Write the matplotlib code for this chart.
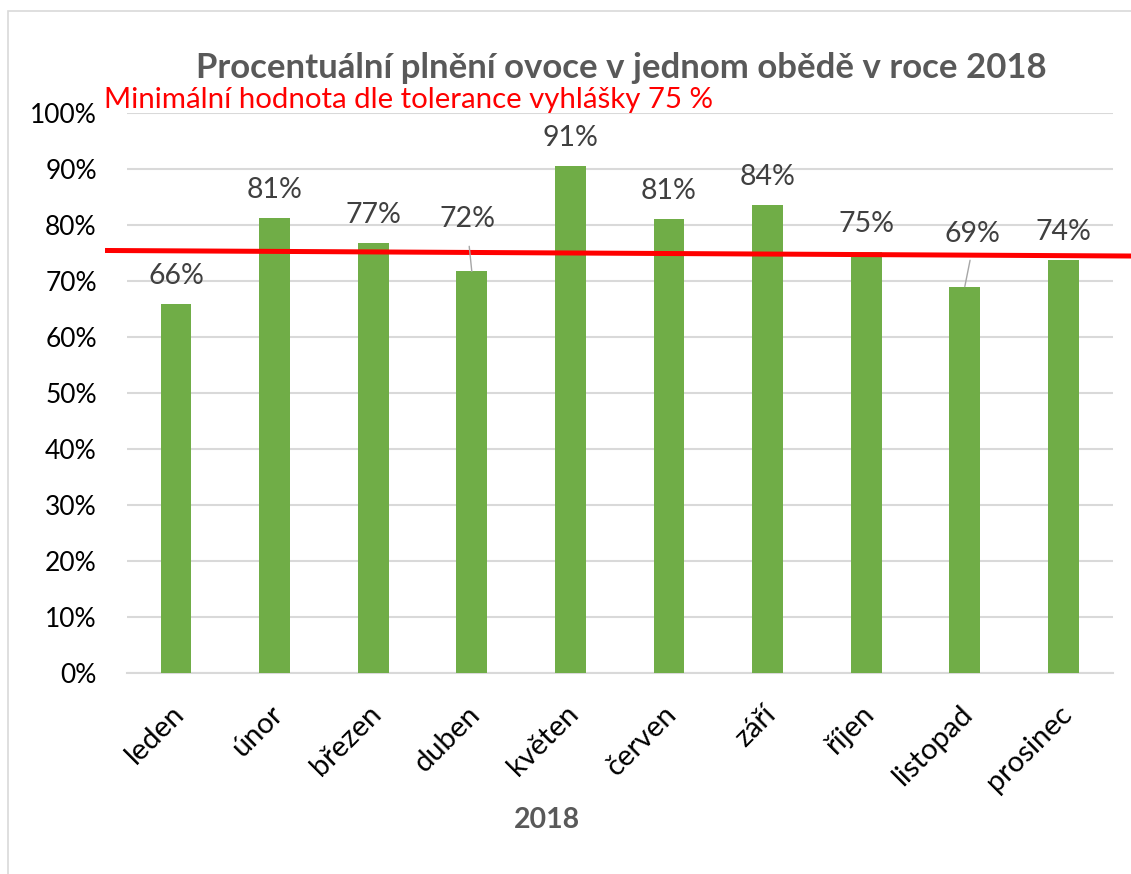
import matplotlib
matplotlib.use("Agg")
import matplotlib.pyplot as plt
from matplotlib.patches import Rectangle

plt.rcParams['font.family'] = ['Lato', 'DejaVu Sans']

months = ["leden", "únor", "březen", "duben", "květen", "červen",
          "září", "říjen", "listopad", "prosinec"]
values = [65.9, 81.2, 76.8, 71.7, 90.6, 81.0, 83.6, 75.2, 69.0, 73.7]
yticks = [0, 10, 20, 30, 40, 50, 60, 70, 80, 90, 100]
ytick_labels = [f"{t}%" for t in yticks]
title = "Procentuální plnění ovoce v jednom obědě v roce 2018"
threshold_text = "Minimální hodnota dle tolerance vyhlášky 75 %"
threshold_x = [-0.72, 9.8]
threshold_y = [75.45, 74.45]
xlabel = "2018"

W, H = 1131, 874
fig = plt.figure(figsize=(W / 100, H / 100), dpi=100)
fig.patch.set_facecolor("white")

# chart frame
fig.patches.append(Rectangle((8 / W, -0.1), 1.2, (H - 11) / H + 0.1,
                             transform=fig.transFigure, fill=False,
                             edgecolor="#D9D9D9", lw=1.2))

ax = fig.add_axes([126.7 / W, 201 / H, 986 / W, 560 / H])
x = list(range(len(months)))
ax.bar(x, values, width=0.314, color="#70AD47", zorder=3)
ax.set_xlim(-0.5, len(months) - 0.5)
ax.set_ylim(0, 100)
ax.set_yticks(yticks)
ax.set_yticklabels(ytick_labels)
ax.yaxis.grid(True, color="#D9D9D9", lw=1.5, zorder=0)
ax.set_axisbelow(True)
for s in ["top", "right", "left"]:
    ax.spines[s].set_visible(False)
ax.spines["bottom"].set_color("#D9D9D9")
ax.spines["bottom"].set_linewidth(1.5)
ax.tick_params(axis="y", length=0, pad=21.5, labelsize=19, labelcolor="black")
ax.tick_params(axis="x", length=0)
ax.set_xticks(x)
ax.set_xticklabels(months, rotation=45, ha="right", va="center",
                   rotation_mode="anchor", fontsize=21, color="black")
for lbl in ax.get_xticklabels():
    lbl.set_transform(lbl.get_transform() +
                      matplotlib.transforms.ScaledTranslation(4 / 100, -32 / 100, fig.dpi_scale_trans))

# data labels
offsets = {3: (-4, 52), 8: (8, 53)}
for i, v in enumerate(values):
    txt = f"{v:.0f}%"
    if i in offsets:
        dx, dy = offsets[i]
        ax.annotate(txt, xy=(i, v), xytext=(dx * 0.72, dy * 0.72),
                    textcoords="offset points", ha="center", va="center",
                    fontsize=20.5, color="#404040", zorder=5,
                    arrowprops=dict(arrowstyle="-", color="#A6A6A6", lw=1,
                                    shrinkA=8, shrinkB=0, relpos=(0.5, 0)))
    else:
        ax.annotate(txt, xy=(i, v), xytext=(0, 28 * 0.72),
                    textcoords="offset points", ha="center", va="center",
                    fontsize=20.5, color="#404040", zorder=5)

# threshold line
ax.plot(threshold_x, threshold_y, color="#FF0000", lw=3.6, clip_on=False,
        zorder=4, solid_capstyle="butt")
fig.text(104 / W, 1 - 100 / H, threshold_text, color="#FF0000",
         fontsize=21.2, ha="left", va="center")

fig.text(621 / W, 1 - 68 / H, title, color="#595959", fontsize=25,
         fontweight="bold", ha="center", va="center")
fig.text(547 / W, 1 - 820 / H, xlabel, color="#595959", fontsize=20.5,
         fontweight="bold", ha="center", va="center")

fig.savefig("out.png", dpi=100, facecolor="white")
